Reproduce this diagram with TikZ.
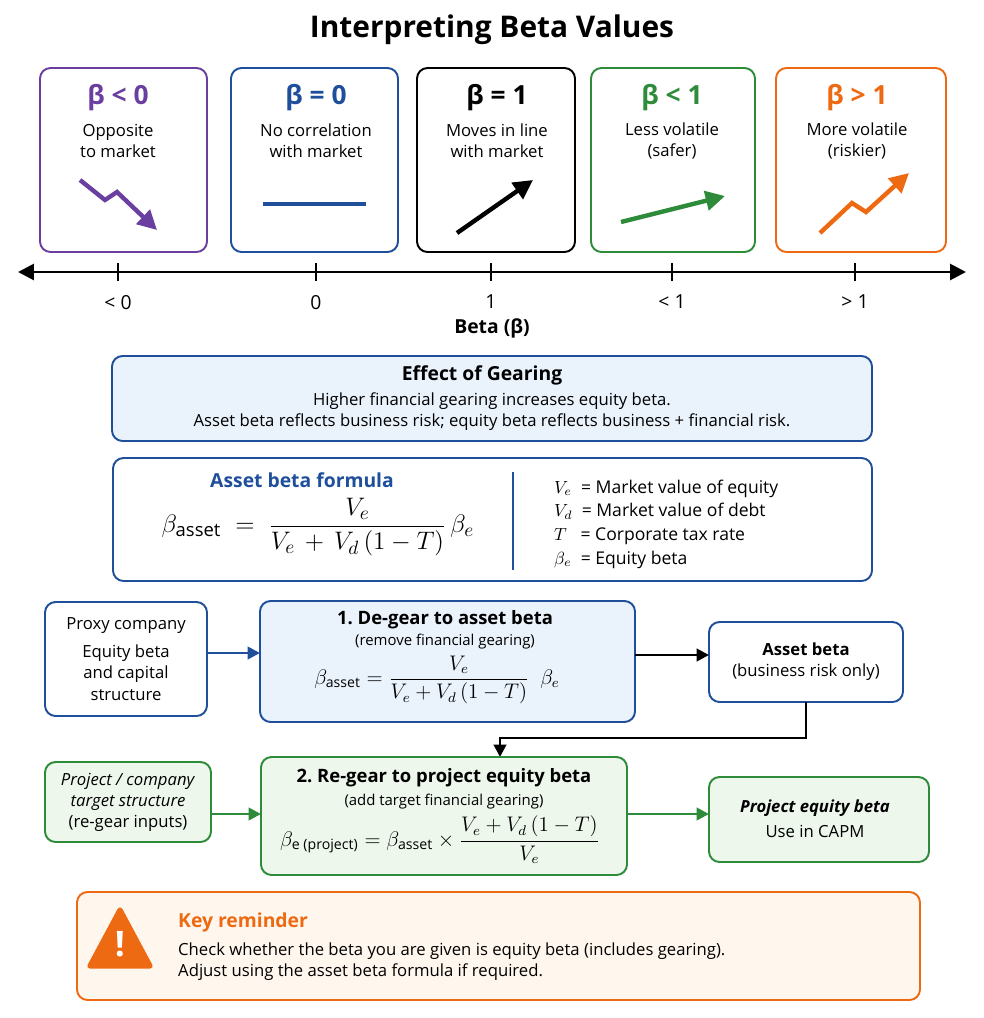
\documentclass[tikz,border=0pt]{standalone}
\usepackage{fontspec}
\setmainfont{Open Sans}
\usepackage{amsmath}
\usetikzlibrary{positioning,arrows.meta,calc}
\definecolor{cpurple}{HTML}{6B3FA0}
\definecolor{cblue}{HTML}{1F4E9A}
\definecolor{cgreen}{HTML}{2E8B3A}
\definecolor{corange}{HTML}{EE6A12}
\definecolor{lblue}{HTML}{EAF2FC}
\definecolor{lgreen}{HTML}{EDF7EC}
\definecolor{lorange}{HTML}{FFF7EE}
\tikzset{
  card/.style={draw=#1,rounded corners=6pt,line width=1.1pt},
  head/.style={font=\fontsize{15}{17}\selectfont\bfseries},
  txt/.style={font=\fontsize{9.5}{12}\selectfont,align=center},
  flow/.style={-{Triangle[length=7pt,width=7pt]},line width=1.6pt},
}
\begin{document}
\begin{tikzpicture}[x=0.02cm,y=-0.02cm]
\useasboundingbox (0,0) rectangle (984,1018);
\node[font=\fontsize{17}{20}\selectfont\bfseries] (title) at (492,30) {Interpreting Beta Values};
% top cards
\draw[card=cpurple] (40,68) rectangle (207,252);
\draw[card=cblue] (231,68) rectangle (398,252);
\draw[card=black] (417,68) rectangle (575,252);
\draw[card=cgreen] (591,68) rectangle (755,252);
\draw[card=corange] (776,68) rectangle (946,252);
\node[head,text=cpurple] (h1) at (118,98) {β < 0};
\node[head,text=cblue] (h2) at (316,98) {β = 0};
\node[head] (h3) at (497,98) {β = 1};
\node[head,text=cgreen] (h4) at (672,98) {β < 1};
\node[head,text=corange] (h5) at (857,98) {β > 1};
\node[txt] (t1) at (118,141) {Opposite\\to market};
\node[txt] (t2) at (316,141) {No correlation\\with market};
\node[txt] (t3) at (497,141) {Moves in line\\with market};
\node[txt] (t4) at (672,141) {Less volatile\\(safer)};
\node[txt] (t5) at (857,141) {More volatile\\(riskier)};
\draw[cpurple,line width=2.5pt,-{Triangle[length=11pt,width=11pt]}] (80,180) -- (105,200) -- (117,192) -- (157,230);
\draw[cblue,line width=2.5pt] (263,204) -- (366,204);
\draw[black,line width=2.5pt,-{Triangle[length=11pt,width=11pt]}] (457,233) -- (533,180);
\draw[cgreen,line width=2.5pt,-{Triangle[length=11pt,width=11pt]}] (621,222) -- (725,196);
\draw[corange,line width=2.5pt,-{Triangle[length=11pt,width=11pt]}] (820,233) -- (852,203) -- (866,212) -- (909,173);
% axis
\coordinate (axl) at (18,272);
\coordinate (axr) at (966,272);
\draw[line width=1.6pt,{Triangle[length=9pt,width=9pt]}-{Triangle[length=9pt,width=9pt]}] (axl) -- (axr);
\foreach \x/\l in {118/{< 0},316/0,491/1,672/{< 1},855/{> 1}}
  \draw[line width=1.4pt] (\x,263) -- (\x,281) node[font=\fontsize{11}{13}\selectfont,below=4pt] {\l};
\node[font=\fontsize{11}{13}\selectfont\bfseries] (axt) at (492,328) {Beta (β)};
% gearing
\draw[card=cblue,fill=lblue] (112,356) rectangle (872,441);
\node[font=\fontsize{11}{13}\selectfont\bfseries] (gear) at (482,375) {Effect of Gearing};
\node[txt] (geart) at (492,412) {Higher financial gearing increases equity beta.\\Asset beta reflects business risk; equity beta reflects business + financial risk.};
% formula
\draw[card=cblue] (113,458) rectangle (872,581);
\draw[cblue,line width=1pt] (513,472) -- (513,570);
\node[font=\fontsize{11}{13}\selectfont\bfseries,text=cblue] (ft) at (302,480) {Asset beta formula};
\node[font=\fontsize{15}{18}\selectfont] (f) at (318,527) {$\beta_{\text{asset}} \;=\; \dfrac{V_e}{V_e \,+\, V_d\,(1-T)}\,\beta_e$};
\node[anchor=west,font=\fontsize{10}{12.5}\selectfont,align=left] (defs) at (548,524) {$V_e$\ \ = Market value of equity\\[1pt]$V_d$\ \ = Market value of debt\\[1pt]$T$\ \ \ = Corporate tax rate\\[1pt]$\beta_e$\ \ = Equity beta};
% row 1
\draw[card=cblue] (45,602) rectangle (207,716);
\node[txt] (proxy) at (126,659) {Proxy company\\[4pt]Equity beta\\and capital\\structure};
\draw[card=cblue,fill=lblue] (260,601) rectangle (635,722);
\node[font=\fontsize{10.5}{12}\selectfont\bfseries] (s1) at (445,620) {1.\ De-gear to asset beta};
\node[txt,font=\fontsize{8.5}{10}\selectfont] (s1b) at (445,642) {(remove financial gearing)};
\node[font=\fontsize{12}{14}\selectfont] (s1f) at (437,680) {$\beta_{\text{asset}} = \dfrac{V_e}{V_e + V_d\,(1-T)}\ \ \beta_e$};
\draw[card=cblue] (709,622) rectangle (903,702);
\node[txt] (ab) at (806,662) {\textbf{Asset beta}\\(business risk only)};
\draw[flow,cblue] (207,653) -- (260,653);
\draw[flow] (635,655) -- (709,655);
\draw[flow] (806,702) -- (806,738) -- (500,738) -- (500,757);
% row 2
\draw[card=cgreen,fill=lgreen] (45,762) rectangle (211,842);
\node[txt] (proj) at (128,802) {\textit{Project / company}\\\textit{target structure}\\(re-gear inputs)};
\draw[card=cgreen,fill=lgreen] (261,757) rectangle (627,875);
\node[font=\fontsize{10.5}{12}\selectfont\bfseries] (s2) at (444,778) {2.\ Re-gear to project equity beta};
\node[txt,font=\fontsize{8.5}{10}\selectfont] (s2b) at (444,802) {(add target financial gearing)};
\node[font=\fontsize{11.5}{13}\selectfont] (s2f) at (440,840) {$\beta_{\text{e (project)}} = \beta_{\text{asset}} \times \dfrac{V_e + V_d\,(1-T)}{V_e}$};
\draw[card=cgreen,fill=lgreen] (709,777) rectangle (929,862);
\node[txt] (peb) at (815,819) {\textbf{\itshape Project equity beta}\\[2pt]Use in CAPM};
\draw[flow,cgreen] (211,814) -- (261,814);
\draw[flow,cgreen] (627,814) -- (709,814);
% reminder
\draw[card=corange,fill=lorange] (77,892) rectangle (920,1000);
\draw[fill=corange,draw=corange,line width=3pt,line join=round] (120,910) -- (150,966) -- (90,966) -- cycle;
\node[text=white,font=\fontsize{20}{20}\selectfont\bfseries] (bang) at (120,944) {!};
\node[anchor=west,font=\fontsize{11}{13}\selectfont\bfseries,text=corange] (kr) at (172,922) {Key reminder};
\node[anchor=west,font=\fontsize{9.5}{12}\selectfont,align=left] (krt) at (172,962) {Check whether the beta you are given is equity beta (includes gearing).\\Adjust using the asset beta formula if required.};
\end{tikzpicture}
\end{document}
